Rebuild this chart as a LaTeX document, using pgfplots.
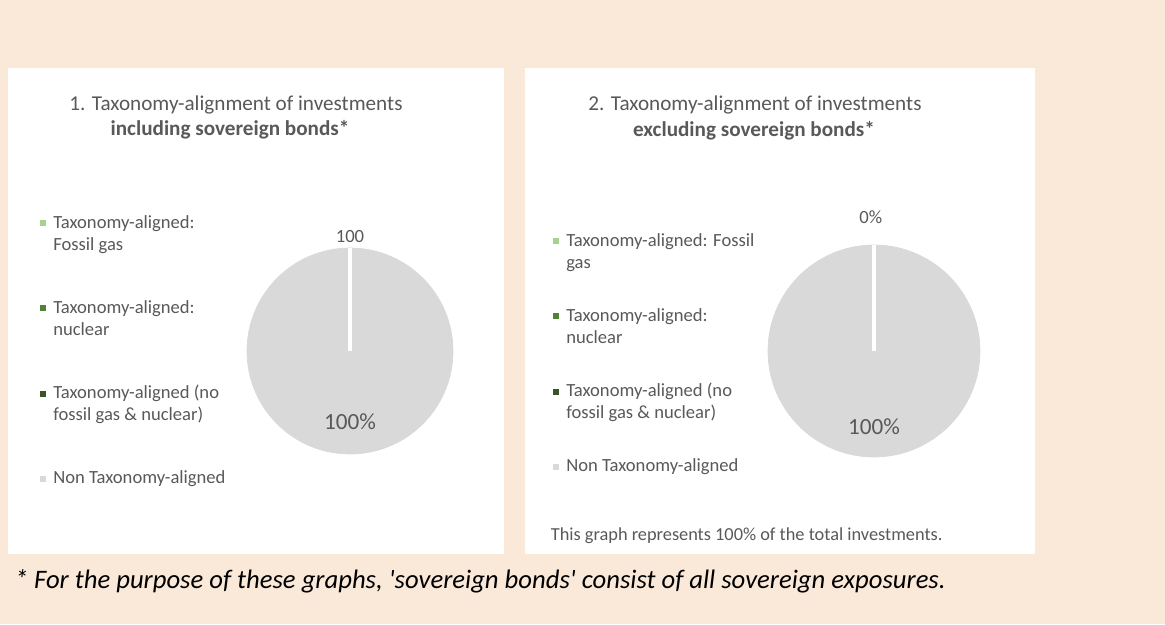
\documentclass[border=0pt]{standalone}
\usepackage{fontspec}
\setmainfont{Carlito}
\usepackage{pgfplots}
\pgfplotsset{compat=1.18}

\definecolor{bgbeige}{RGB}{250,232,216}
\definecolor{txtgray}{RGB}{89,89,89}
\definecolor{piegray}{RGB}{217,217,217}
\definecolor{gasgreen}{RGB}{169,209,142}
\definecolor{nucgreen}{RGB}{84,130,53}
\definecolor{othgreen}{RGB}{55,86,35}

\pgfplotsset{
  pie/.style={
    scale only axis, hide axis, clip=false, clip mode=individual,
    xmin=-1, xmax=1, ymin=-1, ymax=1,
    anchor=center,
    legend image code/.code={\fill[##1, draw=none] (0pt,-8.65pt) rectangle (3.6pt,-5.05pt);},
    legend style={draw=none, fill=none, inner sep=0pt, anchor=north west,
      column sep=4.2pt, text=txtgray,
      font=\fontsize{11.15}{13.5}\selectfont,
      nodes={anchor=north west, align=left, inner sep=0pt}},
  },
}

\begin{document}
\begin{tikzpicture}[x=0.6pt,y=-0.6pt]
\fill[bgbeige] (0,0) rectangle (1165,624);
\fill[white] (8,68) rectangle (504,554);
\fill[white] (525,68) rectangle (1035,554);

% titles
\node[anchor=base, text=txtgray, font=\fontsize{12.7}{15}\selectfont] at (236,110) {1. Taxonomy-alignment of investments};
\node[anchor=base, text=txtgray, font=\fontsize{12.7}{15}\selectfont\bfseries] at (230,135) {including sovereign bonds*};
\node[anchor=base, text=txtgray, font=\fontsize{12.7}{15}\selectfont] at (755,110) {2. Taxonomy-alignment of investments};
\node[anchor=base, text=txtgray, font=\fontsize{12.7}{15}\selectfont\bfseries] at (754,136) {excluding sovereign bonds*};

% 1. including sovereign bonds: 0 / 0 / 0 / 100
\begin{axis}[pie, at={(210pt,-210.6pt)}, width=123.6pt, height=123.6pt,
  legend style={at={(axis description cs:-1.0049,1.1767)}, row sep=26.4pt}]
\addlegendimage{fill=gasgreen}
\addlegendentry{\strut Taxonomy-aligned:\\\strut Fossil gas}
\addlegendimage{fill=nucgreen}
\addlegendentry{\strut Taxonomy-aligned:\\\strut nuclear}
\addlegendimage{fill=othgreen}
\addlegendentry{\strut Taxonomy-aligned (no\\\strut fossil gas \& nuclear)}
\addlegendimage{fill=piegray}
\addlegendentry{\strut Non Taxonomy-aligned}
\addplot[forget plot, piegray, only marks, mark=*, mark size=61.8pt,
  mark options={fill=piegray, draw=piegray}] coordinates {(0,0)};
\addplot[forget plot, white, line width=2.4pt] coordinates {(0,0) (0,1)};
\node[text=txtgray, font=\fontsize{11.2}{13}\selectfont] at (axis cs:0,1.107) {100};
\node[text=txtgray, font=\fontsize{13.9}{16}\selectfont] at (axis cs:0,-0.69) {100\%};
\end{axis}

% 2. excluding sovereign bonds: 0 / 0 / 0 / 100
\begin{axis}[pie, at={(524.4pt,-210.6pt)}, width=127.2pt, height=127.2pt,
  legend style={at={(axis description cs:-1.0142,1.0726)}, row sep=20.4pt}]
\addlegendimage{fill=gasgreen}
\addlegendentry{\strut Taxonomy-aligned: Fossil\\\strut gas}
\addlegendimage{fill=nucgreen}
\addlegendentry{\strut Taxonomy-aligned:\\\strut nuclear}
\addlegendimage{fill=othgreen}
\addlegendentry{\strut Taxonomy-aligned (no\\\strut fossil gas \& nuclear)}
\addlegendimage{fill=piegray}
\addlegendentry{\strut Non Taxonomy-aligned}
\addplot[forget plot, piegray, only marks, mark=*, mark size=63.6pt,
  mark options={fill=piegray, draw=piegray}] coordinates {(0,0)};
\addplot[forget plot, white, line width=2.4pt] coordinates {(0,0) (0,1)};
\node[text=txtgray, font=\fontsize{11.2}{13}\selectfont] at (axis cs:-0.03,1.26) {0\%};
\node[text=txtgray, font=\fontsize{13.9}{16}\selectfont] at (axis cs:0,-0.71) {100\%};
\end{axis}

\node[anchor=base west, text=txtgray, font=\fontsize{11}{13}\selectfont] at (545,540) {This graph represents 100\% of the total investments.};
\node[anchor=base west, font=\fontsize{16}{19}\selectfont\itshape] at (9,588) {* For the purpose of these graphs, \textquotesingle sovereign bonds\textquotesingle{} consist of all sovereign exposures.};
\end{tikzpicture}
\end{document}
